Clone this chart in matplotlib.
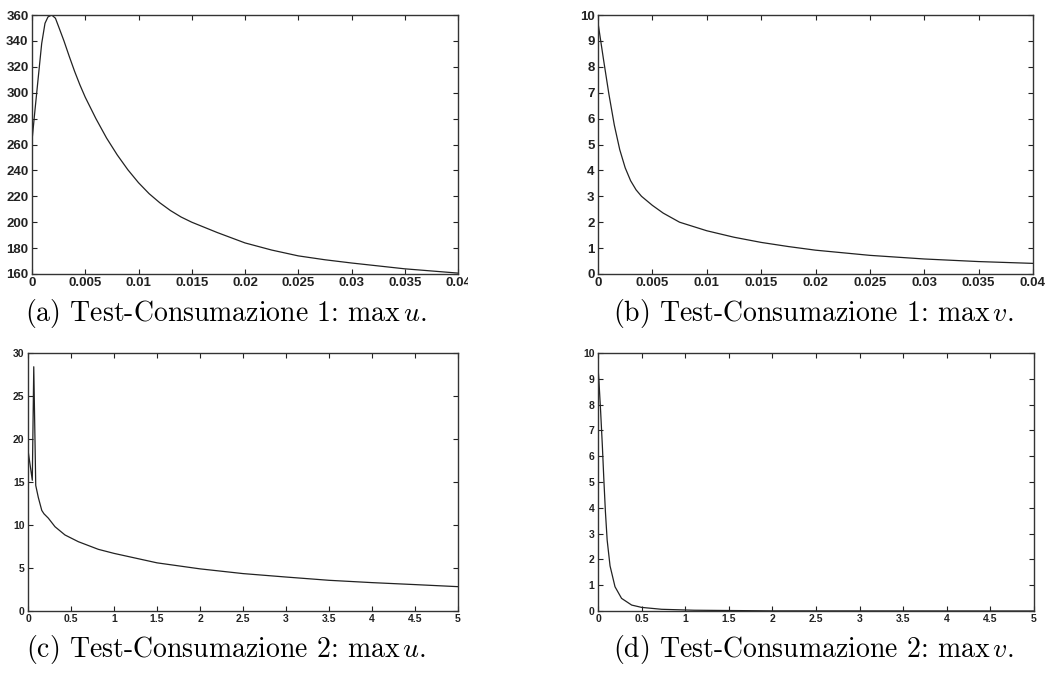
import numpy as np
import matplotlib
matplotlib.use('Agg')
import matplotlib.pyplot as plt
from matplotlib.transforms import Bbox, TransformedBbox

plt.rcParams['mathtext.fontset'] = 'cm'

# (a) Test-Consumazione 1: max u
a_t = [0, 0.00028, 0.00059, 0.00091, 0.00122, 0.0015, 0.00185, 0.0022, 0.0025,
       0.003, 0.0035, 0.004, 0.0045, 0.005, 0.006, 0.007, 0.008, 0.009, 0.01,
       0.011, 0.012, 0.013, 0.014, 0.015, 0.0174, 0.02, 0.0225, 0.025, 0.0275,
       0.03, 0.035, 0.04]
a_u = [263, 286.6, 312, 338, 353.6, 358.5, 360, 357.5, 351,
       340, 328, 316.5, 306, 296.5, 280, 265, 252, 240.5, 230.5,
       222, 215, 209, 204, 200, 192, 184, 178.5, 174, 171,
       168.5, 164, 160.7]

# (b) Test-Consumazione 1: max v
b_t = [0, 0.0005, 0.001, 0.0015, 0.002, 0.0025, 0.003, 0.0035, 0.004, 0.005,
       0.006, 0.0075, 0.01, 0.0125, 0.015, 0.0175, 0.02, 0.025, 0.03, 0.035, 0.04]
b_v = [9.7, 8.3, 6.95, 5.75, 4.8, 4.1, 3.6, 3.25, 3.0, 2.65,
       2.35, 2.0, 1.67, 1.42, 1.22, 1.06, 0.92, 0.72, 0.58, 0.48, 0.41]

# (c) Test-Consumazione 2: max u
c_t = [0, 0.05, 0.067, 0.09, 0.12, 0.16, 0.186, 0.236, 0.314, 0.43, 0.585,
       0.818, 1.0, 1.5, 2.0, 2.5, 3.0, 3.5, 4.0, 4.5, 5.0]
c_u = [18.7, 15.2, 28.4, 14.6, 13.2, 11.7, 11.3, 10.8, 9.8, 8.84, 8.06,
       7.17, 6.7, 5.6, 4.9, 4.35, 3.95, 3.57, 3.3, 3.07, 2.83]

# (d) Test-Consumazione 2: max v
d_t = [0, 0.011, 0.03, 0.05, 0.067, 0.085, 0.105, 0.138, 0.195, 0.27, 0.386,
       0.5, 0.73, 1.1, 2.0, 5.0]
d_v = [9.47, 8.9, 7.75, 6.4, 5.1, 3.85, 2.75, 1.75, 0.94, 0.49, 0.23,
       0.14, 0.066, 0.03, 0.005, 0.0]

xt_small = [0, 0.005, 0.01, 0.015, 0.02, 0.025, 0.03, 0.035, 0.04]
xl_small = ['0', '0.005', '0.01', '0.015', '0.02', '0.025', '0.03', '0.035', '0.04']
xt_big = [0, 0.5, 1, 1.5, 2, 2.5, 3, 3.5, 4, 4.5, 5]
xl_big = ['0', '0.5', '1', '1.5', '2', '2.5', '3', '3.5', '4', '4.5', '5']

captions = [r'(a) Test-Consumazione 1: $\max\,u$.',
            r'(b) Test-Consumazione 1: $\max\,v$.',
            r'(c) Test-Consumazione 2: $\max\,u$.',
            r'(d) Test-Consumazione 2: $\max\,v$.']

W, H = 1051, 675
fig = plt.figure(figsize=(W / 100, H / 100), dpi=100)


def px_axes(l, t, r, b):
    return fig.add_axes([l / W, 1 - b / H, (r - l) / W, (b - t) / H])


def style(ax, xt, xl, yt, fs):
    ax.set_xticks(xt)
    ax.set_xticklabels(xl)
    ax.set_yticks(yt)
    ax.set_yticklabels([str(v) for v in yt])
    ax.tick_params(direction='in', top=True, right=True, length=3.5,
                   width=0.8, pad=2.5, labelsize=fs, colors='#222222')
    for lab in ax.get_xticklabels() + ax.get_yticklabels():
        lab.set_family('Liberation Sans')
        lab.set_weight('bold')
    for s in ax.spines.values():
        s.set_linewidth(1.0)
        s.set_color('#333333')


ax_a = px_axes(32, 15, 458, 274)
ax_a.plot(a_t, a_u, color='#222222', lw=0.9)
ax_a.set_xlim(0, 0.04)
ax_a.set_ylim(160, 360)
style(ax_a, xt_small, xl_small, list(range(160, 361, 20)), 9.5)

ax_b = px_axes(598, 15, 1033, 274)
ax_b.plot(b_t, b_v, color='#222222', lw=0.9)
ax_b.set_xlim(0, 0.04)
ax_b.set_ylim(0, 10)
style(ax_b, xt_small, xl_small, list(range(0, 11)), 9.5)

ax_c = px_axes(28, 353, 458, 611)
ax_c.plot(c_t, c_u, color='#222222', lw=0.9)
ax_c.set_xlim(0, 5)
ax_c.set_ylim(0, 30)
style(ax_c, xt_big, xl_big, list(range(0, 31, 5)), 7.5)

ax_d = px_axes(598, 353, 1034, 611)
ax_d.plot(d_t, d_v, color='#222222', lw=0.9)
ax_d.set_xlim(0, 5)
ax_d.set_ylim(0, 10)
style(ax_d, xt_big, xl_big, list(range(0, 11)), 7.5)

# the source picture cuts the last label of panel (a)
last = ax_a.get_xticklabels()[-1]
last.set_clip_box(TransformedBbox(Bbox([[0, 0], [468 / W, 1]]), fig.transFigure))
last.set_clip_on(True)

cap_pos = [(226, 313), (813, 313), (226, 650), (813, 650)]
for (cx, cy), txt in zip(cap_pos, captions):
    fig.text(cx / W, 1 - cy / H, txt, ha='center', va='center',
             family='cmr10', fontsize=20)

fig.savefig('out.png', dpi=100)
